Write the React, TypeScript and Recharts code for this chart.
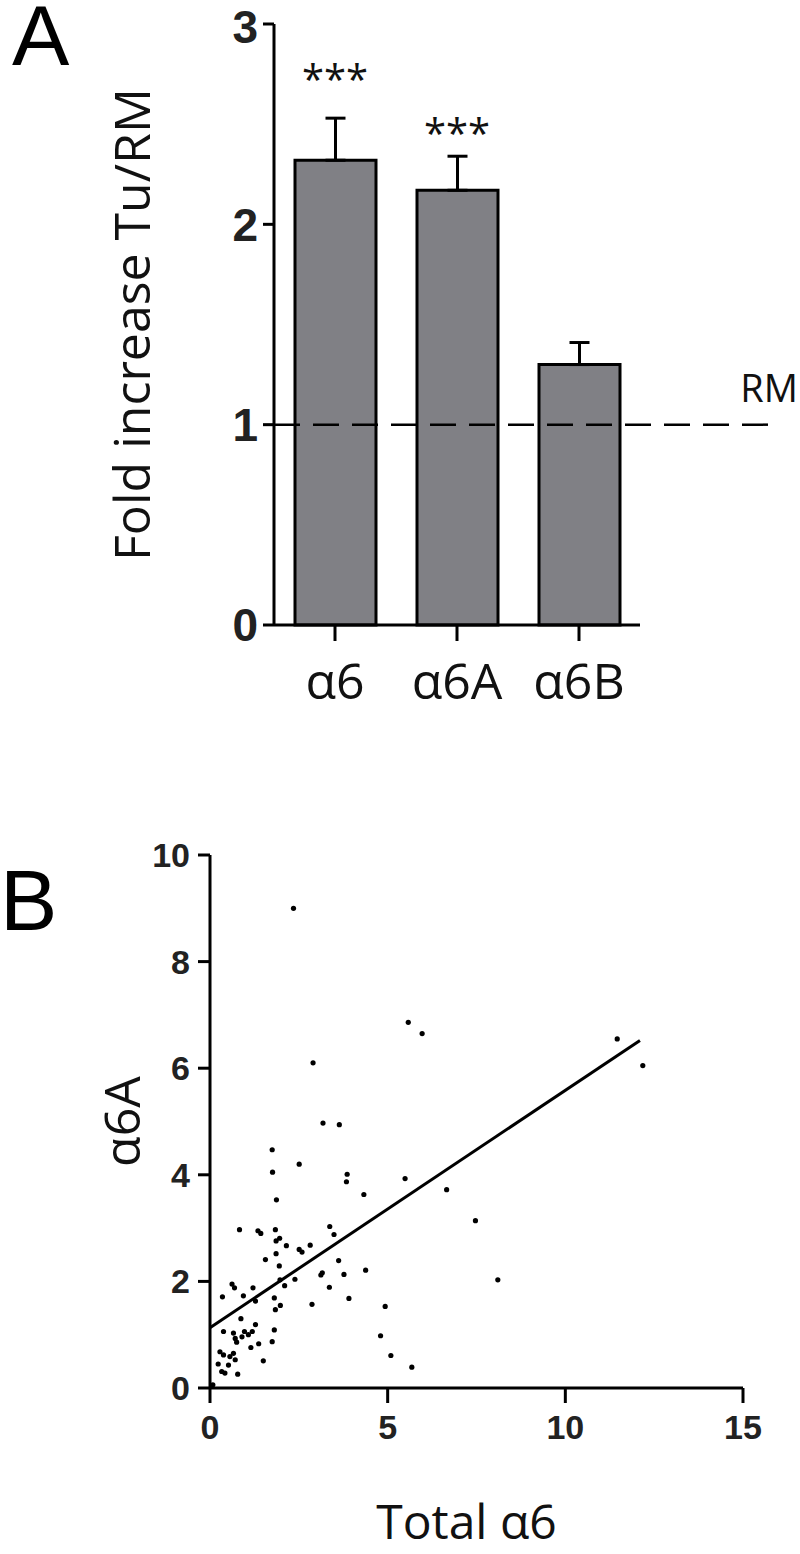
import React from "react";
import {
  ComposedChart,
  ScatterChart,
  Bar,
  Line,
  Scatter,
  XAxis,
  YAxis,
  ErrorBar,
  ReferenceLine,
} from "recharts";

// panel A
const groups = ["α6", "α6A", "α6B"];
const foldIncrease = [2.32, 2.17, 1.3];
const foldError = [0.21, 0.17, 0.11];
const significance = ["***", "***", ""];
const starLevel = [2.76, 2.49, null];
const foldTicks = [0, 1, 2, 3];

// panel B
const totalA6 = [
  2.35, 5.58, 5.97, 2.9, 11.46, 12.18, 3.18, 3.64, 1.75, 1.76, 2.51, 3.86, 3.84,
  4.33, 5.49, 6.66, 7.47, 8.1, 1.87, 0.83, 1.35, 1.43, 1.84, 3.37, 3.49, 1.86,
  1.96, 2.15, 2.51, 2.59, 2.82, 1.86, 1.56, 1.95, 3.62, 4.38, 3.16, 3.12, 3.77,
  1.97, 2.1, 2.39, 3.36, 3.91, 4.93, 2.87, 1.81, 1.84, 1.98, 0.62, 0.69, 1.21,
  0.94, 0.35, 1.28, 0.87, 0.38, 0.66, 0.71, 0.75, 0.97, 1.08, 1.19, 1.28, 0.9,
  1.81, 1.75, 1.37, 1.15, 1.5, 0.28, 0.38, 0.56, 0.52, 0.71, 0.66, 0.33, 0.42,
  0.78, 0.23, 4.8, 5.09, 5.68, 0.08,
];
const alpha6A = [
  9.0, 6.86, 6.65, 6.1, 6.55, 6.05, 4.97, 4.94, 4.47, 4.05, 4.2, 4.01, 3.87,
  3.63, 3.93, 3.72, 3.14, 2.03, 3.53, 2.97, 2.95, 2.9, 2.97, 3.03, 2.88, 2.76,
  2.81, 2.67, 2.6, 2.55, 2.68, 2.52, 2.41, 2.29, 2.39, 2.21, 2.16, 2.12, 2.13,
  2.03, 1.92, 2.04, 1.89, 1.68, 1.53, 1.57, 1.69, 1.47, 1.55, 1.95, 1.88, 1.88,
  1.73, 1.71, 1.63, 1.3, 1.06, 1.03, 0.93, 0.86, 1.06, 1.0, 1.06, 1.19, 0.96,
  1.09, 0.87, 0.83, 0.76, 0.51, 0.68, 0.62, 0.59, 0.43, 0.53, 0.65, 0.31, 0.28,
  0.26, 0.45, 0.98, 0.61, 0.39, 0.06,
];
const fitX = [0, 12.1];
const fitY = [1.13, 6.52];
const totalTicks = [0, 5, 10, 15];
const alphaTicks = [0, 2, 4, 6, 8, 10];

const barData = groups.map((group, i) => ({
  group,
  fold: foldIncrease[i],
  err: [0, foldError[i]],
  sig: significance[i],
  star: starLevel[i],
}));

const points = totalA6.map((x, i) => ({ x, y: alpha6A[i] }));
const fitLine = fitX.map((x, i) => ({ x, y: fitY[i] }));

const ink = "#111";
const numFont = "'Liberation Sans', Arial, sans-serif";
const textFont = "'Open Sans', 'Noto Sans', sans-serif";

function Stars(props: any) {
  const { cx, cy, payload } = props;
  if (!payload?.sig || cy == null) return <g />;
  return (
    <text
      x={cx}
      y={cy}
      dy={22}
      textAnchor="middle"
      fontFamily={textFont}
      fontSize={40}
      fill={ink}
    >
      {payload.sig}
    </text>
  );
}

function FoldChart() {
  return (
    <ComposedChart
      width={800}
      height={720}
      data={barData}
      margin={{ top: 24, right: 30, bottom: 35, left: -10 }}
    >
      <XAxis
        dataKey="group"
        padding={{ left: 0, right: 130 }}
        height={60}
        axisLine={{ stroke: "#000", strokeWidth: 3, strokeDasharray: "366 400" }}
        tickLine={{ stroke: "#000", strokeWidth: 3 }}
        tickSize={16}
        tickMargin={22}
        tick={{ fontSize: 50, fontFamily: textFont, fill: ink }}
      />
      <YAxis
        domain={[0, 3]}
        ticks={foldTicks}
        width={284}
        axisLine={{ stroke: "#000", strokeWidth: 3 }}
        tickLine={{ stroke: "#000", strokeWidth: 3 }}
        tickSize={11}
        tickMargin={5}
        tick={{ fontSize: 46, fontFamily: numFont, fontWeight: 700, fill: "#222" }}
        label={{
          value: "Fold increase Tu/RM",
          angle: -90,
          position: "center",
          fontSize: 50,
          fontFamily: textFont,
          fill: ink,
        }}
      />
      <Bar
        dataKey="fold"
        fill="#808085"
        stroke="#000"
        strokeWidth={3}
        barSize={81}
        isAnimationActive={false}
      >
        <ErrorBar dataKey="err" width={10} stroke="#000" strokeWidth={3} />
      </Bar>
      <Line
        dataKey="star"
        stroke="none"
        dot={<Stars />}
        activeDot={false}
        isAnimationActive={false}
      />
      <ReferenceLine
        y={1}
        stroke="#000"
        strokeWidth={2.5}
        strokeDasharray="26 13"
        label={({ viewBox }: any) => (
          <text
            x={viewBox.x + viewBox.width + 28}
            y={viewBox.y - 23}
            textAnchor="end"
            fontFamily={textFont}
            fontSize={38}
            fill={ink}
          >
            RM
          </text>
        )}
      />
    </ComposedChart>
  );
}

function CorrelationChart() {
  return (
    <ScatterChart
      width={800}
      height={794}
      margin={{ top: 95, right: 57, bottom: 6, left: 34 }}
    >
      <XAxis
        type="number"
        dataKey="x"
        domain={[0, 15]}
        ticks={totalTicks}
        height={160}
        axisLine={{ stroke: "#000", strokeWidth: 3 }}
        tickLine={{ stroke: "#000", strokeWidth: 3 }}
        tickSize={15}
        tickMargin={12}
        tick={{ fontSize: 34, fontFamily: numFont, fontWeight: 700, fill: "#222" }}
        label={{
          value: "Total α6",
          position: "insideBottom",
          offset: 9,
          dx: -10,
          fontSize: 48,
          fontFamily: textFont,
          fill: ink,
        }}
      />
      <YAxis
        type="number"
        dataKey="y"
        domain={[0, 10]}
        ticks={alphaTicks}
        width={176}
        axisLine={{ stroke: "#000", strokeWidth: 3 }}
        tickLine={{ stroke: "#000", strokeWidth: 3 }}
        tickSize={12}
        tickMargin={8}
        tick={{ fontSize: 34, fontFamily: numFont, fontWeight: 700, fill: "#222" }}
        label={{
          value: "α6A",
          angle: -90,
          position: "center",
          fontSize: 50,
          fontFamily: textFont,
          fill: ink,
        }}
      />
      <Scatter
        data={points}
        isAnimationActive={false}
        shape={(p: any) => <circle cx={p.cx} cy={p.cy} r={2.6} fill="#000" />}
      />
      <Scatter
        data={fitLine}
        line={{ stroke: "#000", strokeWidth: 3 }}
        isAnimationActive={false}
        shape={() => <g />}
      />
    </ScatterChart>
  );
}

export default function App() {
  const letter: React.CSSProperties = {
    position: "absolute",
    fontFamily: numFont,
    fontSize: 86,
    lineHeight: 0.8,
    color: "#000",
  };
  return (
    <div
      style={{
        position: "absolute",
        left: 0,
        top: 0,
        width: 800,
        height: 1554,
        background: "#fff",
      }}
    >
      <div style={{ ...letter, left: 12, top: 1 }}>A</div>
      <div style={{ ...letter, left: 0, top: 866 }}>B</div>
      <div style={{ position: "absolute", left: 0, top: 0 }}>
        <FoldChart />
      </div>
      <div style={{ position: "absolute", left: 0, top: 760 }}>
        <CorrelationChart />
      </div>
    </div>
  );
}
